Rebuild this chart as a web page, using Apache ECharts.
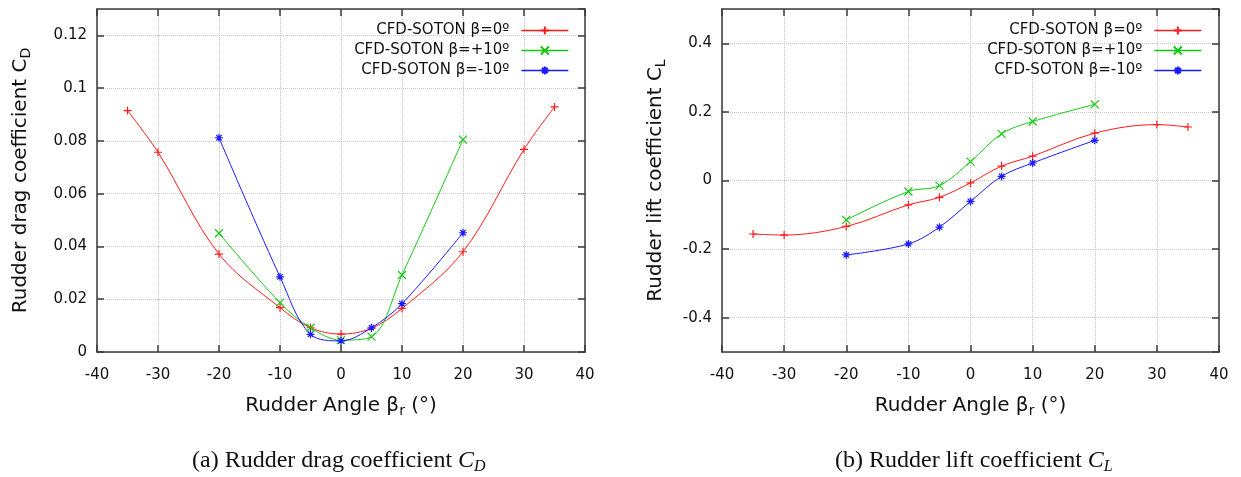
<!DOCTYPE html>
<html>
<head>
<meta charset="utf-8">
<script src="https://cdn.jsdelivr.net/npm/echarts@6/dist/echarts.min.js"></script>
<style>
html,body{margin:0;padding:0;background:#fff;}
#chart{width:1241px;height:477px;}
</style>
</head>
<body>
<div id="chart"></div>
<script>
// ---- data ----
var anglesAll = [-35, -30, -20, -10, -5, 0, 5, 10, 20, 30, 35];
var anglesPart = [-20, -10, -5, 0, 5, 10, 20];
var xTicks = [-40, -30, -20, -10, 0, 10, 20, 30, 40];
var cdBeta0 = [0.0915, 0.0757, 0.0371, 0.0168, 0.0092, 0.0068, 0.0090, 0.0165, 0.0380, 0.0768, 0.0929];
var cdBetaP10 = [0.0450, 0.0187, 0.0092, 0.0045, 0.0058, 0.0292, 0.0805];
var cdBetaM10 = [0.0812, 0.0285, 0.0067, 0.0042, 0.0092, 0.0183, 0.0452];
var clBeta0 = [-0.156, -0.159, -0.134, -0.071, -0.049, -0.007, 0.042, 0.071, 0.138, 0.163, 0.156];
var clBetaP10 = [-0.115, -0.032, -0.015, 0.055, 0.136, 0.172, 0.222];
var clBetaM10 = [-0.217, -0.185, -0.136, -0.061, 0.012, 0.051, 0.117];
var seriesNames = ['CFD-SOTON \u03b2=0\u00ba', 'CFD-SOTON \u03b2=+10\u00ba', 'CFD-SOTON \u03b2=-10\u00ba'];

function pairs(xs, ys) { return xs.map(function (x, i) { return [x, ys[i]]; }); }

var colors = ['#ff1a1a', '#14c814', '#1a1aff'];
var symbols = [
  'path://M5,0L5,10M0,5L10,5',
  'path://M0,0L10,10M10,0L0,10',
  'path://M5,0L5,10M0,5L10,5M1.6,1.6L8.4,8.4M8.4,1.6L1.6,8.4'
];
var axisCol = '#3a3a3a';
var sansFont = 'DejaVu Sans';

function mkSeries(i, xs, ys, xi, yi) {
  return {
    name: seriesNames[i], type: 'line', xAxisIndex: xi, yAxisIndex: yi,
    data: pairs(xs, ys), smooth: 0.35,
    symbol: symbols[i], symbolSize: 8, showSymbol: true,
    lineStyle: { color: colors[i], width: 1 },
    itemStyle: { color: colors[i], borderColor: colors[i], borderWidth: 1.2 },
    emphasis: { disabled: true }, z: 3
  };
}

var nameStyle = { fontFamily: sansFont, fontSize: 20, color: '#111',
  rich: { sub: { fontFamily: sansFont, fontSize: 14, color: '#111', padding: [10, 0, 0, 0] } } };

function xAxisMain(gi) {
  return {
    type: 'value', gridIndex: gi, min: -40, max: 40, interval: 10, position: 'bottom',
    name: 'Rudder Angle \u03b2{sub|r} (\u00b0)', nameLocation: 'middle', nameGap: 42,
    nameTextStyle: nameStyle,
    axisLine: { show: true, onZero: false, lineStyle: { color: axisCol, width: 1.5 } },
    axisTick: { show: true, inside: true, length: 7, lineStyle: { color: axisCol, width: 1.5 } },
    axisLabel: { fontFamily: sansFont, fontSize: 15, color: '#111', margin: 16 },
    splitLine: { show: true, lineStyle: { type: 'dotted', color: '#c8c8c8', width: 1 } }
  };
}
function xAxisTop(gi) {
  return {
    type: 'value', gridIndex: gi, min: -40, max: 40, interval: 10, position: 'top',
    axisLine: { show: true, onZero: false, lineStyle: { color: axisCol, width: 1.5 } },
    axisTick: { show: true, inside: true, length: 7, lineStyle: { color: axisCol, width: 1.5 } },
    axisLabel: { show: false }, splitLine: { show: false }
  };
}
function legendAt(right) {
  return { data: seriesNames, orient: 'vertical', right: right, top: 18, align: 'right',
    itemWidth: 47, itemHeight: 10, itemGap: 5, selectedMode: false,
    lineStyle: { width: 1.3 },
    textStyle: { fontFamily: sansFont, fontSize: 15, color: '#111', padding: [0, 7, 0, 0] } };
}

var option = {
  backgroundColor: '#ffffff',
  animation: false,
  grid: [
    { left: 97, top: 9, width: 488, height: 343 },
    { left: 722, top: 9, width: 497, height: 343 }
  ],
  legend: [legendAt(667), legendAt(34)],
  xAxis: [xAxisMain(0), xAxisTop(0), xAxisMain(1), xAxisTop(1)],
  yAxis: [
    { type: 'value', gridIndex: 0, min: 0, max: 0.13, interval: 0.02, position: 'left',
      name: 'Rudder drag coefficient C{sub|D}', nameLocation: 'middle', nameGap: 64,
      nameTextStyle: nameStyle,
      axisLine: { show: true, onZero: false, lineStyle: { color: axisCol, width: 1.5 } },
      axisTick: { show: true, inside: true, length: 7, lineStyle: { color: axisCol, width: 1.5 } },
      axisLabel: { fontFamily: sansFont, fontSize: 15, color: '#111', margin: 10, showMaxLabel: false },
      splitLine: { show: true, lineStyle: { type: 'dotted', color: '#c8c8c8', width: 1 } } },
    { type: 'value', gridIndex: 0, min: 0, max: 0.13, interval: 0.02, position: 'right',
      axisLine: { show: true, onZero: false, lineStyle: { color: axisCol, width: 1.5 } },
      axisTick: { show: true, inside: true, length: 7, lineStyle: { color: axisCol, width: 1.5 } },
      axisLabel: { show: false }, splitLine: { show: false } },
    { type: 'value', gridIndex: 1, min: -0.5, max: 0.5, splitNumber: 5, position: 'left',
      name: 'Rudder lift coefficient C{sub|L}', nameLocation: 'middle', nameGap: 54,
      nameTextStyle: nameStyle,
      axisLine: { show: true, onZero: false, lineStyle: { color: axisCol, width: 1.5 } },
      axisTick: { show: true, inside: true, length: 7, lineStyle: { color: axisCol, width: 1.5 } },
      axisLabel: { fontFamily: sansFont, fontSize: 15, color: '#111', margin: 10, showMinLabel: false, showMaxLabel: false },
      splitLine: { show: true, lineStyle: { type: 'dotted', color: '#c8c8c8', width: 1 } } },
    { type: 'value', gridIndex: 1, min: -0.5, max: 0.5, splitNumber: 5, position: 'right',
      axisLine: { show: true, onZero: false, lineStyle: { color: axisCol, width: 1.5 } },
      axisTick: { show: true, inside: true, length: 7, lineStyle: { color: axisCol, width: 1.5 } },
      axisLabel: { show: false }, splitLine: { show: false } }
  ],
  series: [
    mkSeries(0, anglesAll, cdBeta0, 0, 0),
    mkSeries(1, anglesPart, cdBetaP10, 0, 0),
    mkSeries(2, anglesPart, cdBetaM10, 0, 0),
    mkSeries(0, anglesAll, clBeta0, 2, 2),
    mkSeries(1, anglesPart, clBetaP10, 2, 2),
    mkSeries(2, anglesPart, clBetaM10, 2, 2)
  ],
  graphic: [
    { type: 'text', left: 192, top: 449,
      style: { text: '(a) Rudder drag coefficient {i|C}{sub|D}', fontFamily: 'Liberation Serif', fontSize: 24, fill: '#111',
        rich: { i: { fontFamily: 'Liberation Serif', fontStyle: 'italic', fontSize: 24, fill: '#111' },
                sub: { fontFamily: 'Liberation Serif', fontStyle: 'italic', fontSize: 16, fill: '#111', padding: [11, 0, 0, 0] } } } },
    { type: 'text', left: 835, top: 449,
      style: { text: '(b) Rudder lift coefficient {i|C}{sub|L}', fontFamily: 'Liberation Serif', fontSize: 24, fill: '#111',
        rich: { i: { fontFamily: 'Liberation Serif', fontStyle: 'italic', fontSize: 24, fill: '#111' },
                sub: { fontFamily: 'Liberation Serif', fontStyle: 'italic', fontSize: 16, fill: '#111', padding: [11, 0, 0, 0] } } } }
  ]
};
var chart = echarts.init(document.getElementById('chart'), null, { renderer: 'canvas' });
chart.setOption(option);
</script>
</body>
</html>
